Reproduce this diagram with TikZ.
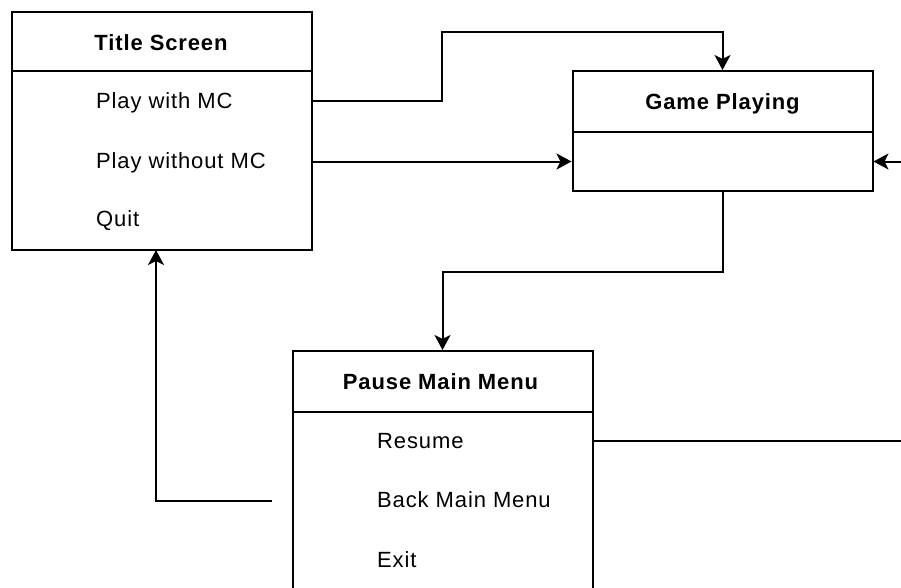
\documentclass[tikz,border=0pt]{standalone}
\usepackage{fontspec}
\setmainfont{Liberation Sans}[LetterSpace=4]
\usetikzlibrary{arrows.meta}
\tikzset{
  x=1pt, y=-1pt,
  box/.style={draw, line width=2pt, minimum width=300pt, inner sep=0pt},
  head/.style={font=\fontsize{22}{26}\selectfont\bfseries, anchor=base, inner sep=0pt},
  item/.style={font=\fontsize{22}{26}\selectfont, anchor=base west, inner sep=0pt},
  divider/.style={line width=2pt},
  link/.style={line width=2pt},
  arr/.style={link, -{Stealth[length=15pt,width=16pt,inset=4pt]}}
}
\begin{document}
\begin{tikzpicture}
\useasboundingbox (0,0) rectangle (901,587);
\clip (0,0) rectangle (901,587);

% Title Screen
\node[box, minimum height=238pt] (ts) at (162,131) {};
\draw[divider] (ts.west |- 0,71) -- (ts.east |- 0,71);
\node[head] (tsh) at (161,50.5) {Title Screen};
\node[item] (pwith) at (96,108) {Play with MC};
\node[item] (pwithout) at (96,168) {Play without MC};
\node[item] (quit) at (96,226.5) {Quit};

% Game Playing
\node[box, minimum height=120pt] (gp) at (722.5,131) {};
\draw[divider] (gp.west |- 0,131.5) -- (gp.east |- 0,131.5);
\node[head] (gph) at (722.5,109.5) {Game Playing};

% Pause Main Menu (runs past the lower edge)
\node[box, minimum height=280pt] (pm) at (442.5,491) {};
\draw[divider] (pm.west |- 0,411.5) -- (pm.east |- 0,411.5);
\node[head] (pmh) at (440.5,389.5) {Pause Main Menu};
\node[item] (resume) at (377,448) {Resume};
\node[item] (back) at (377,507.5) {Back Main Menu};
\node[item] (exit) at (377,567.5) {Exit};

% Connectors
\coordinate (bendA) at (442,31.5);
\draw[arr] (ts.east |- 0,100.5) -| (bendA) -| (gp.north);
\draw[arr] (ts.east |- 0,161.5) -- (gp.west |- 0,161.5);
\coordinate (fromright) at (901,161.5);
\draw[arr] (fromright) -- (gp.east |- fromright);
\draw[arr] (gp.south) -- ++(0,80) -| (pm.north);
\coordinate (toright) at (901,440.5);
\draw[link] (pm.east |- toright) -- (toright);
\coordinate (backstart) at (272,501);
\coordinate (tsin) at (156,250);
\draw[arr] (backstart) -| (tsin);
\end{tikzpicture}
\end{document}
